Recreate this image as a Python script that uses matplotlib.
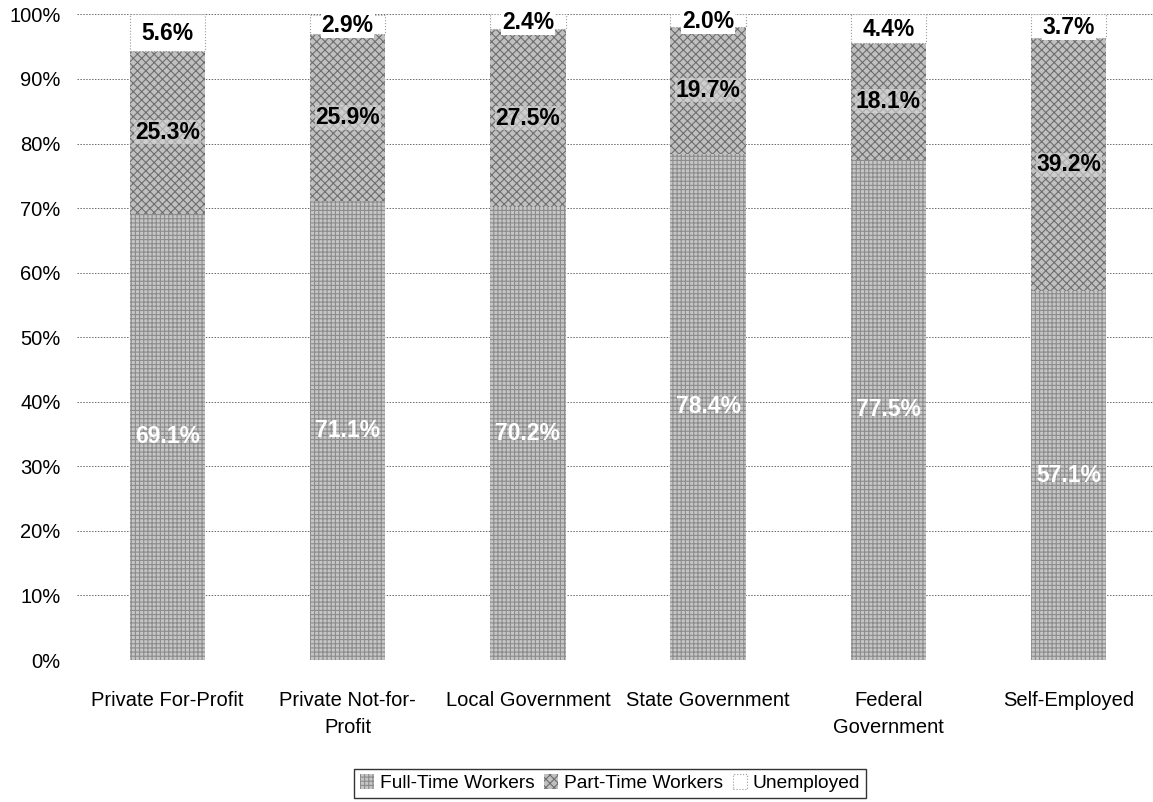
import matplotlib
matplotlib.use("Agg")
import matplotlib.pyplot as plt
import numpy as np

categories = ["Private For-Profit", "Private Not-for-\nProfit", "Local Government",
              "State Government", "Federal\nGovernment", "Self-Employed"]
full_time = [69.1, 71.1, 70.2, 78.4, 77.5, 57.1]
part_time = [25.3, 25.9, 27.5, 19.7, 18.1, 39.2]
unemployed = [5.6, 2.9, 2.4, 2.0, 4.4, 3.7]
y_ticks = [0, 10, 20, 30, 40, 50, 60, 70, 80, 90, 100]

plt.rcParams['font.family'] = ['Liberation Sans', 'DejaVu Sans']
plt.rcParams['hatch.linewidth'] = 0.8

fig = plt.figure(figsize=(11.53, 8.02), dpi=100)
ax = fig.add_axes([0.067, 0.177, 0.938, 0.805])

x = np.arange(len(categories))
w = 0.42
ft = np.array(full_time)
pt = np.array(part_time)
un = np.array(unemployed)

b1 = ax.bar(x, ft, w, color="#c6c6c6", edgecolor="#8c8c8c", hatch="++++", linewidth=0,
            label="Full-Time Workers", zorder=3)
b2 = ax.bar(x, pt, w, bottom=ft, color="#c0c0c0", edgecolor="#6e6e6e", hatch="xxxx",
            linewidth=0, label="Part-Time Workers", zorder=3)
b3 = ax.bar(x, un, w, bottom=ft + pt, color="white", edgecolor="#9a9a9a", linewidth=0.8,
            linestyle=":", label="Unemployed", zorder=3)

for i in range(len(x)):
    ax.text(x[i], ft[i] * 0.5, f"{ft[i]:.1f}%", ha="center", va="center",
            color="white", fontsize=16.5, fontweight="bold", zorder=5)
    ax.text(x[i], ft[i] + pt[i] * 0.5, f"{pt[i]:.1f}%", ha="center", va="center",
            color="black", fontsize=16.5, fontweight="bold", zorder=5,
            bbox=dict(facecolor="#d8d8d8", edgecolor="none", pad=0.5, alpha=0.6))
    ax.text(x[i], ft[i] + pt[i] + un[i] * 0.5 - 0.2, f"{un[i]:.1f}%", ha="center", va="center",
            color="black", fontsize=16.5, fontweight="bold", zorder=5,
            bbox=dict(facecolor="white", edgecolor="none", pad=0.5))

ax.set_ylim(0, 100)
ax.set_xlim(-0.5, len(x) - 0.5)
ax.set_yticks(y_ticks)
ax.set_yticklabels([f"{t}%" for t in y_ticks], fontsize=14.5)
ax.set_xticks(x)
ax.set_xticklabels(categories, fontsize=14.5, va="top", linespacing=1.55)
ax.tick_params(axis="y", length=0, pad=12)
ax.tick_params(axis="x", length=0, pad=22)
ax.grid(axis="y", color="#6a6a6a", linestyle=(0, (1.5, 1.5)), linewidth=0.7, zorder=0)
for s in ax.spines.values():
    s.set_visible(False)

leg = fig.legend(handles=[b1, b2, b3], loc="lower center", bbox_to_anchor=(0.529, 0.0),
                 ncol=3, fontsize=13.8, frameon=True, fancybox=False, edgecolor="black",
                 handlelength=0.75, handleheight=0.8, handletextpad=0.3, columnspacing=0.5,
                 borderpad=0.3, borderaxespad=0.2)
leg.get_frame().set_linewidth(1.0)

fig.savefig("out.png", dpi=100, facecolor="white")
